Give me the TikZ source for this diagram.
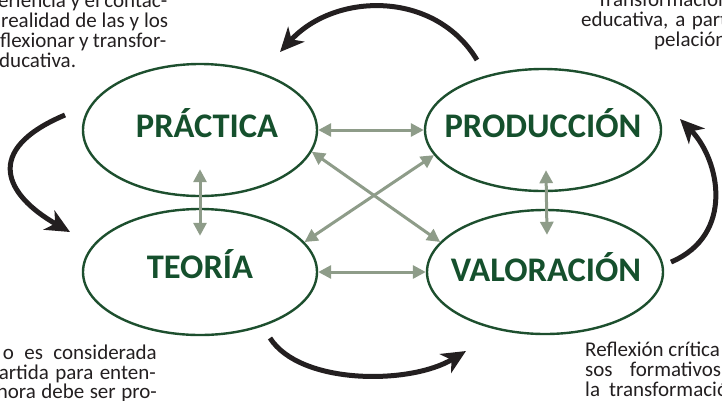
\documentclass[tikz,border=0pt]{standalone}
\usepackage{fontspec}
\setmainfont{Carlito}
\usetikzlibrary{shapes.geometric,arrows.meta}
\definecolor{egreen}{HTML}{1D4F2E}
\definecolor{tgreen}{HTML}{15502D}
\definecolor{agrey}{HTML}{8E9C89}
\definecolor{ablack}{HTML}{231F20}
\definecolor{tgray}{HTML}{231F20}
\tikzset{
  oval/.style={ellipse, draw=egreen, line width=2.4pt, inner sep=0pt},
  ovaltext/.style={text=tgreen, font=\fontsize{34.5}{34.5}\selectfont\bfseries, inner sep=0pt, anchor=base},
  link/.style={draw=agrey, line width=3pt, {Triangle[length=13pt,width=13pt]}-{Triangle[length=13pt,width=13pt]}},
  flowarrow/.style={draw=ablack, line width=5pt, -{Stealth[length=24pt,width=22pt,inset=7pt]}},
  body/.style={text=tgray, font=\fontsize{21}{21}\selectfont, inner sep=0pt},
}
\begin{document}
\begin{tikzpicture}[x=1pt,y=-1pt]
\useasboundingbox (0,0) rectangle (722,400);
\clip (0,0) rectangle (722,400);
% ellipses
\node[oval, minimum width=234pt, minimum height=132pt] (prac) at (200,130) {};
\node[oval, minimum width=236pt, minimum height=122pt] (prod) at (543,130) {};
\node[oval, minimum width=234pt, minimum height=126pt] (teo) at (200,272) {};
\node[oval, minimum width=236pt, minimum height=124pt] (val) at (545,272) {};
\node[ovaltext] (pract) at (207,137) {PRÁCTICA};
\node[ovaltext] (prodt) at (543,137) {PRODUCCIÓN};
\node[ovaltext] (teot) at (200,278) {TEORÍA};
\node[ovaltext] (valt) at (546,281) {VALORACIÓN};
% grey links
\draw[link] (prac.east) -- (prod.west);
\draw[link] (teo.east) -- (val.west);
\draw[link] (prac.-11) -- (val.164);
\draw[link] (prod.-167) -- (teo.16);
\draw[link] ([yshift=28pt]prac.south) -- ([yshift=-28pt]teo.north);
\draw[link] ([xshift=3pt,yshift=22pt]prod.south) -- ([xshift=2pt,yshift=-26pt]val.north);
% black cycle arrows
\coordinate (c1s) at (477,60);  \coordinate (c1e) at (280,52);
\coordinate (c2s) at (65,115);  \coordinate (c2e) at (70,232);
\coordinate (c3s) at (270,338); \coordinate (c3e) at (466,351);
\coordinate (c4s) at (671,262); \coordinate (c4e) at (680,119);
\draw[flowarrow] (c1s) .. controls (435,-10) and (335,-8) .. (c1e);
\draw[flowarrow] (c2s) .. controls (-18,150) and (5,195) .. (c2e);
\draw[flowarrow] (c3s) .. controls (300,385) and (410,385) .. (c3e);
\draw[flowarrow] (c4s) .. controls (735,235) and (720,160) .. (c4e);
% texts top-left
\node[body, anchor=base west] (tl1) at (-2,7) {\makebox[169pt][s]{eriencia y el contac-}};
\node[body, anchor=base west] (tl2) at (1,27) {\makebox[167pt][s]{realidad de las y los}};
\node[body, anchor=base west] (tl3) at (0,47) {\makebox[166pt][s]{flexionar y transfor-}};
\node[body, anchor=base west] (tl4) at (-1,67) {ducativa.};
% texts top-right
\node[body, anchor=base west] (tr1) at (597,6) {Transformación};
\node[body, anchor=base west] (tr2) at (581,26) {\makebox[146pt][s]{educativa, a part}};
\node[body, anchor=base west] (tr3) at (654,46) {pelación};
% texts bottom-left
\node[body, anchor=base east] (bl1) at (157,359) {\makebox[154pt][s]{o es considerada}};
\node[body, anchor=base east] (bl2) at (156,379) {\makebox[157pt][s]{artida para enten-}};
\node[body, anchor=base east] (bl3) at (157,398) {\makebox[160pt][s]{hora debe ser pro-}};
% texts bottom-right
\node[body, anchor=base west] (br1) at (585,356) {Reflexión crítica};
\node[body, anchor=base west] (br2) at (585,376) {\makebox[136pt][s]{sos formativos}};
\node[body, anchor=base west] (br3) at (585,396) {la\hspace{9pt}transformació};
\end{tikzpicture}
\end{document}
